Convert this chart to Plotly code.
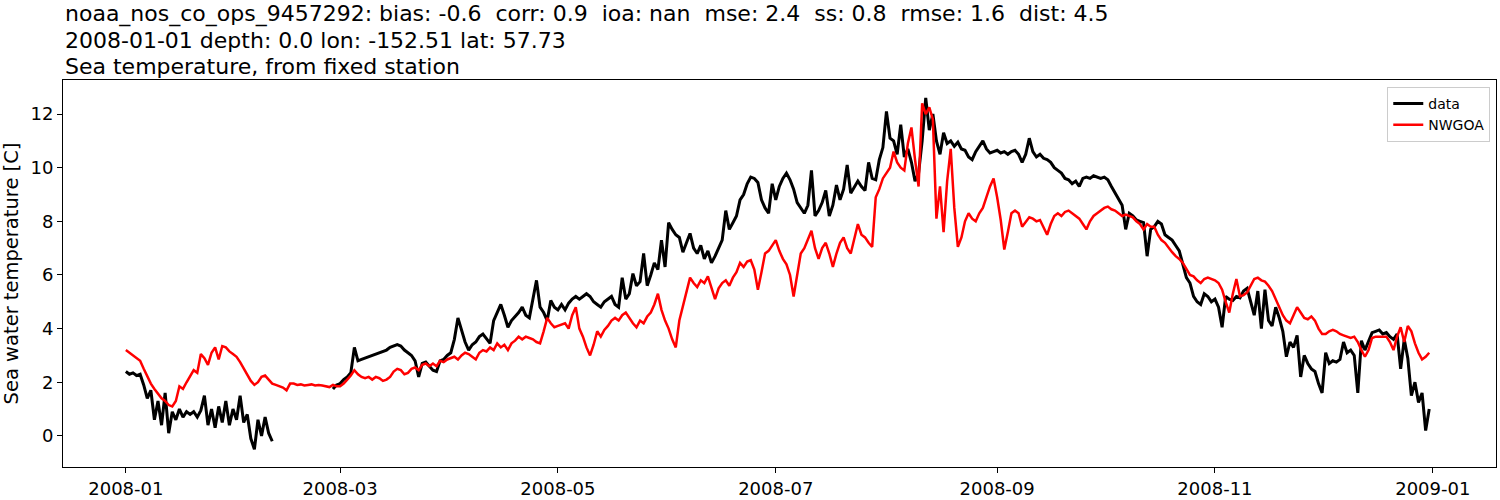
import numpy as np
import pandas as pd
import plotly.graph_objects as go

start = pd.Timestamp("2008-01-01")

# observed sea temperature, first stretch (from 2008-01-01)
data_part1 = [
    2.4, 2.3, 2.35, 2.25, 2.3, 1.9, 1.4, 1.7, 0.6, 1.3,
    0.4, 1.6, 0.1, 0.9, 0.6, 1.0, 0.7, 0.9, 0.8, 0.9,
    0.7, 0.95, 1.5, 0.4, 1.0, 0.3, 1.1, 0.5, 1.3, 0.4,
    1.0, 0.6, 1.5, 0.5, 0.8, -0.1, -0.5, 0.6, 0.0, 0.7,
    0.1, -0.2,
]
# observed, second stretch (starts 58 days after 2008-01-01)
data_part2_offset = 58
data_part2 = [
    1.75, 1.9, 1.95, 2.1, 2.2, 2.35, 3.3, 2.8, 2.85, 2.9,
    2.95, 3.0, 3.05, 3.1, 3.15, 3.2, 3.3, 3.35, 3.4, 3.35,
    3.2, 3.1, 3.0, 2.8, 2.2, 2.7, 2.75, 2.6, 2.45, 2.4,
    2.8, 2.85, 3.0, 3.1, 3.6, 4.4, 3.9, 3.5, 3.2, 3.4,
    3.5, 3.7, 3.8, 3.6, 3.45, 4.3, 4.6, 4.9, 4.5, 4.05,
    4.3, 4.45, 4.6, 4.8, 4.5, 4.4, 5.05, 5.8, 4.8, 4.6,
    4.3, 5.05, 4.8, 4.7, 4.9, 4.7, 4.95, 5.1, 5.2, 5.1,
    5.2, 5.3, 5.2, 5.0, 4.9, 4.8, 5.0, 5.1, 5.2, 4.9,
    4.8, 5.9, 5.1, 5.3, 6.05, 5.6, 5.75, 6.8, 5.6, 6.0,
    6.45, 6.2, 7.3, 6.3, 7.95, 7.7, 7.5, 7.4, 6.85, 7.2,
    7.55, 7.0, 6.8, 7.1, 6.6, 6.9, 6.45, 6.7, 7.0, 7.3,
    8.4, 7.7, 7.95, 8.2, 8.8, 9.0, 9.4, 9.65, 9.6, 9.45,
    8.8, 8.5, 8.3, 9.4, 8.8, 9.3, 9.6, 9.8, 9.55, 9.2,
    8.7, 8.5, 8.3, 8.6, 9.9, 8.2, 8.4, 8.7, 9.15, 8.2,
    8.6, 9.35, 8.8, 9.2, 10.1, 9.05, 9.3, 9.5, 9.3, 9.15,
    10.2, 9.6, 9.55, 10.3, 10.75, 12.1, 11.1, 11.0, 10.5, 11.6,
    10.4, 10.7, 10.2, 9.5, 9.8, 11.0, 12.6, 11.4, 12.0, 11.0,
    10.5, 11.3, 10.9, 11.0, 10.8, 10.95, 10.7, 10.65, 10.4, 10.3,
    10.6, 10.8, 11.0, 10.7, 10.55, 10.6, 10.65, 10.55, 10.6, 10.5,
    10.6, 10.65, 10.5, 10.2, 10.5, 11.1, 10.6, 10.4, 10.5, 10.35,
    10.3, 10.2, 10.0, 9.9, 9.8, 9.6, 9.55, 9.4, 9.5, 9.3,
    9.6, 9.65, 9.6, 9.7, 9.65, 9.6, 9.65, 9.55, 9.3, 9.05,
    8.8, 8.6, 7.7, 8.3, 8.2, 8.05, 8.0, 7.95, 6.7, 7.7,
    7.8, 8.0, 7.9, 7.5, 7.4, 7.3, 7.1, 6.9, 6.4, 5.9,
    5.7, 5.2, 5.0, 4.9, 5.3, 5.2, 5.0, 5.1, 4.8, 4.05,
    5.2, 5.1, 5.05, 5.2, 5.15, 5.4, 5.5, 5.0, 4.5, 5.4,
    4.0, 5.45, 4.3, 4.1, 4.8, 4.4, 3.9, 2.95, 3.5, 3.3,
    3.75, 2.2, 3.0, 2.7, 2.5, 2.4, 1.95, 1.6, 3.1, 2.7,
    2.8, 2.75, 2.85, 3.5, 3.1, 3.2, 3.0, 1.6, 3.55, 3.2,
    3.5, 3.85, 3.9, 3.95, 3.8, 3.85, 3.7, 3.6, 3.8, 2.5,
    3.6, 2.9, 1.5, 2.0, 1.25, 1.6, 0.2, 1.0,
]

# NWGOA model, daily from 2008-01-01
model = [
    3.2, 3.1, 3.0, 2.9, 2.8, 2.5, 2.2, 1.95, 1.75, 1.55,
    1.4, 1.3, 1.15, 1.1, 1.3, 1.85, 1.75, 2.0, 2.2, 2.45,
    2.35, 3.05, 2.9, 2.65, 3.1, 3.3, 2.85, 3.35, 3.3, 3.15,
    3.05, 2.95, 2.75, 2.5, 2.25, 2.05, 1.9, 2.0, 2.2, 2.25,
    2.1, 1.95, 1.9, 1.85, 1.8, 1.7, 1.95, 1.95, 1.9, 1.92,
    1.88, 1.9, 1.92, 1.88, 1.9, 1.88, 1.85, 1.82, 1.9, 1.85,
    1.85, 1.95, 2.1, 2.25, 2.45, 2.3, 2.2, 2.15, 2.2, 2.1,
    2.2, 2.15, 2.05, 2.1, 2.2, 2.4, 2.5, 2.45, 2.3, 2.35,
    2.5, 2.55, 2.45, 2.65, 2.7, 2.6, 2.7, 2.6, 2.8, 2.75,
    2.85, 2.9, 2.95, 2.85, 3.0, 3.1, 3.05, 2.95, 2.85, 3.1,
    3.2, 3.15, 3.3, 3.2, 3.45, 3.3, 3.4, 3.2, 3.45, 3.55,
    3.7, 3.6, 3.7, 3.65, 3.6, 3.5, 3.45, 3.9, 4.4, 4.2,
    4.05, 4.1, 4.15, 4.2, 4.0, 4.5, 4.8, 4.0, 3.7, 3.3,
    3.0, 3.4, 3.9, 3.7, 3.95, 4.1, 4.3, 4.4, 4.3, 4.5,
    4.6, 4.4, 4.2, 4.05, 4.3, 4.2, 4.45, 4.6, 4.9, 5.3,
    4.7, 4.3, 4.0, 3.6, 3.3, 4.3, 4.8, 5.4, 5.9, 5.7,
    5.55, 5.8, 5.7, 5.95, 5.5, 5.1, 5.5, 5.7, 5.8, 5.6,
    5.9, 6.1, 6.45, 6.3, 6.5, 6.55, 6.2, 5.45, 6.1, 6.8,
    6.9, 7.1, 7.3, 6.9, 6.6, 6.4, 6.0, 5.2, 6.0, 6.8,
    7.0, 7.3, 7.65, 7.0, 6.6, 7.0, 7.2, 6.8, 6.3, 6.8,
    7.2, 7.4, 7.0, 6.8, 7.3, 7.9, 7.5, 7.4, 7.2, 7.05,
    8.9, 9.2, 9.6, 9.8, 10.0, 10.6, 10.2, 10.0, 9.9, 10.9,
    11.5, 10.3, 9.3, 12.4, 12.0, 12.25, 11.8, 8.1, 9.3, 7.6,
    9.5, 10.7, 8.5, 7.05, 7.4, 8.0, 8.3, 8.1, 8.0, 8.3,
    8.5, 8.9, 9.3, 9.6, 8.9, 8.05, 6.95, 7.6, 8.3, 8.4,
    8.3, 7.8, 8.0, 8.15, 8.1, 8.0, 8.05, 7.8, 7.5, 7.9,
    8.2, 8.3, 8.2, 8.35, 8.4, 8.3, 8.2, 8.1, 7.9, 7.7,
    8.0, 8.2, 8.3, 8.4, 8.5, 8.55, 8.45, 8.4, 8.3, 8.2,
    8.25, 8.2, 8.15, 8.0, 7.9, 7.7, 7.9, 7.8, 7.8, 7.5,
    7.3, 7.2, 7.0, 6.85, 6.7, 6.6, 6.45, 6.2, 6.0, 5.95,
    5.8, 5.7, 5.85, 5.9, 5.85, 5.8, 5.7, 5.45, 5.0, 4.6,
    5.3, 5.85, 5.2, 5.25, 5.35, 5.6, 5.85, 5.9, 5.8, 5.75,
    5.6, 5.4, 5.1, 4.8, 4.5, 4.3, 4.2, 4.5, 4.8, 4.6,
    4.4, 4.35, 4.45, 4.3, 4.0, 3.8, 3.8, 3.9, 3.95, 3.9,
    3.8, 3.75, 3.7, 3.65, 3.7, 3.5, 3.2, 2.95, 3.2, 3.65,
    3.7, 3.7, 3.68, 3.7, 3.5, 3.2, 3.7, 4.05, 3.5, 4.1,
    3.9, 3.45, 3.1, 2.85, 2.95, 3.1,
]

x_ticks = ["2008-01-01", "2008-03-01", "2008-05-01", "2008-07-01",
           "2008-09-01", "2008-11-01", "2009-01-01"]
x_tick_labels = ["2008-01", "2008-03", "2008-05", "2008-07",
                 "2008-09", "2008-11", "2009-01"]
y_ticks = [0, 2, 4, 6, 8, 10, 12]

title_lines = [
    "noaa_nos_co_ops_9457292: bias: -0.6  corr: 0.9  ioa: nan  mse: 2.4  ss: 0.8  rmse: 1.6  dist: 4.5",
    "2008-01-01 depth: 0.0 lon: -152.51 lat: 57.73",
    "Sea temperature, from fixed station",
]


def days(offset, n):
    return start + pd.to_timedelta(np.arange(offset, offset + n), unit="D")


# observed series with a gap between the two stretches
obs_x = list(days(0, len(data_part1))) + [None] + list(days(data_part2_offset, len(data_part2)))
obs_y = data_part1 + [None] + data_part2

fig = go.Figure()
fig.add_trace(go.Scatter(x=obs_x, y=obs_y, mode="lines", name="data",
                         line=dict(color="black", width=3)))
fig.add_trace(go.Scatter(x=days(0, len(model)), y=model, mode="lines", name="NWGOA",
                         line=dict(color="red", width=2.5)))

font = "DejaVu Sans, sans-serif"
# three title lines, stacked above the plot area (26 px apart)
for i, line in enumerate(title_lines):
    fig.add_annotation(
        text=line.replace("  ", " \u00a0"),
        xref="paper", yref="paper", x=0, y=1, xanchor="left", yanchor="middle",
        showarrow=False, yshift=14 + 26 * (len(title_lines) - 1 - i),
        font=dict(family=font, size=22, color="black"),
    )

fig.update_layout(
    width=1500, height=500,
    margin=dict(l=63, r=4, t=80, b=33),
    plot_bgcolor="white", paper_bgcolor="white",
    font=dict(family=font, size=18, color="black"),
    showlegend=True,
    legend=dict(x=0.996, y=0.982, xanchor="right", yanchor="top",
                bgcolor="white", bordercolor="#cccccc", borderwidth=1,
                font=dict(size=14), tracegroupgap=0),
)
fig.update_xaxes(
    range=[start - pd.Timedelta(days=17.6), start + pd.Timedelta(days=383.7)],
    tickvals=x_ticks, ticktext=x_tick_labels,
    showline=True, linecolor="black", linewidth=1, mirror=True,
    ticks="outside", ticklen=5, tickcolor="black", showgrid=False, zeroline=False,
    automargin=False,
)
fig.update_yaxes(
    range=[-1.16, 13.27], tickvals=y_ticks,
    title=dict(text="Sea water temperature [C]", standoff=8, font=dict(size=19.5)),
    showline=True, linecolor="black", linewidth=1, mirror=True,
    ticks="outside", ticklen=5, tickcolor="black", showgrid=False, zeroline=False,
    automargin=False,
)

fig.write_html("out.html", config={"displayModeBar": False},
               post_script="document.body.style.margin='0';")
